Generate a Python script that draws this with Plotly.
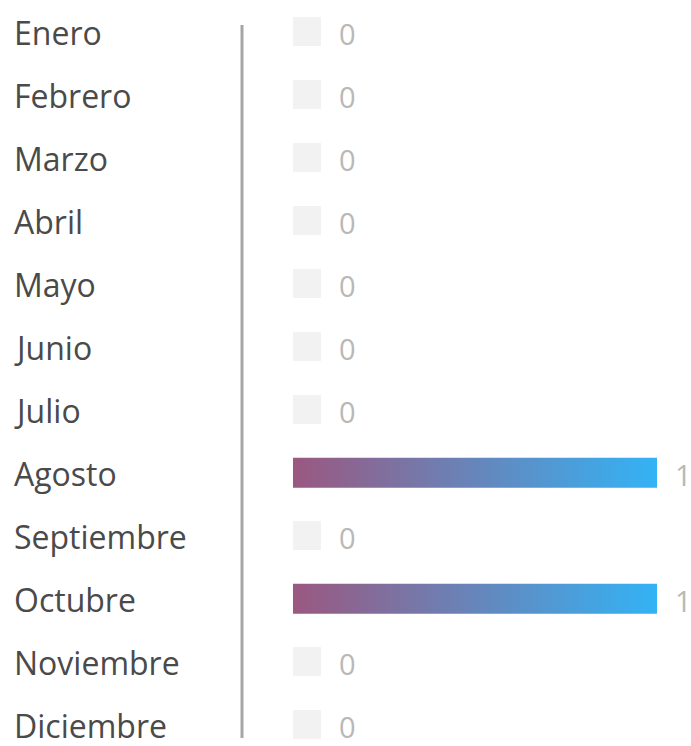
import plotly.graph_objects as go

# ---- data ----
months = ["Enero", "Febrero", "Marzo", "Abril", "Mayo", "Junio", "Julio",
          "Agosto", "Septiembre", "Octubre", "Noviembre", "Diciembre"]
values = [0, 0, 0, 0, 0, 0, 0, 1, 0, 1, 0, 0]

# ---- style ----
W, H = 691, 746
FONT = "Open Sans"
GRAD = [[0, "#9a5880"], [1, "#33b3f5"]]
X0, XS = 293, 364         # pixel of value 0, pixels per unit
Y0, YS = 31.8, 63.0       # pixel of first row, pixels per row
STUB = 28 / XS            # placeholder width for zero values
BAR_H = 30 / YS
STUB_H = 29 / YS

idx = list(range(len(months)))

fig = go.Figure()

# placeholder squares for zero values
fig.add_trace(go.Bar(
    y=idx,
    x=[STUB if v == 0 else None for v in values],
    orientation="h",
    width=STUB_H,
    marker=dict(color="#f2f2f2", line=dict(width=0)),
    hoverinfo="skip",
    showlegend=False,
))

# gradient bars for non-zero values
px, py = [], []
for i, v in zip(idx, values):
    if v > 0:
        px += [0, v, v, 0, 0, None]
        py += [i - BAR_H / 2, i - BAR_H / 2, i + BAR_H / 2, i + BAR_H / 2, i - BAR_H / 2, None]
fig.add_trace(go.Scatter(
    x=px, y=py, mode="lines", fill="toself",
    line=dict(width=0, color="rgba(0,0,0,0)"),
    fillgradient=dict(type="horizontal", colorscale=GRAD),
    hoverinfo="skip", showlegend=False,
))

annotations = []
for i, (m, v) in enumerate(zip(months, values)):
    annotations.append(dict(
        x=12 / W, xref="paper", y=i, yref="y", yshift=-1,
        text=m, showarrow=False, xanchor="left", yanchor="middle",
        font=dict(family=FONT, size=32, color="#4a4a4a"),
    ))
    annotations.append(dict(
        x=v if v > 0 else STUB, xref="x", y=i, yref="y", yshift=-2,
        xshift=16, text=str(v), showarrow=False, xanchor="left", yanchor="middle",
        font=dict(family=FONT, size=29, color="#b8b8b8"),
    ))

fig.update_layout(
    width=W, height=H,
    margin=dict(l=0, r=0, t=0, b=0),
    paper_bgcolor="white", plot_bgcolor="white",
    bargap=0,
    xaxis=dict(range=[-X0 / XS, (W - X0) / XS], visible=False, fixedrange=True),
    yaxis=dict(range=[(H - Y0) / YS, -Y0 / YS], visible=False, fixedrange=True),
    annotations=annotations,
    shapes=[dict(type="line", xref="paper", yref="paper",
                 x0=242 / W, x1=242 / W,
                 y0=1 - 25 / H, y1=1 - 738 / H,
                 line=dict(color="#a6a6a6", width=3))],
    showlegend=False,
)

fig.write_html(
    "out.html",
    config={"displayModeBar": False},
    post_script="document.body.style.margin='0';document.body.style.overflow='hidden';",
)
